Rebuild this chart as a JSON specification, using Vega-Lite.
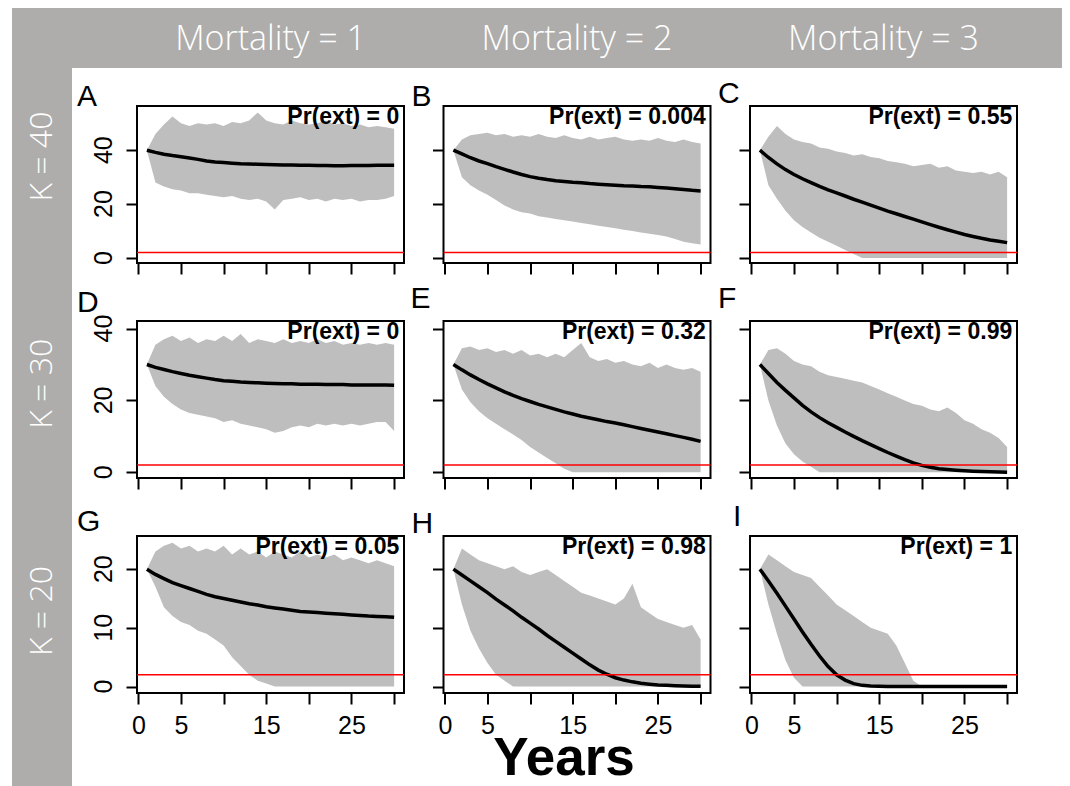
{
"$schema": "https://vega.github.io/schema/vega-lite/v6.json",
"background": "white",
"padding": {"left": 12, "top": 8, "right": 0, "bottom": 0},
"config": {
  "font": "Liberation Sans",
  "view": {"stroke": "black", "strokeWidth": 2},
  "axis": {"domain": false, "grid": false, "ticks": true, "tickColor": "black", "tickWidth": 2, "tickSize": 11, "labelFont": "Liberation Sans", "labelFontSize": 25, "labelColor": "black", "labelFlush": false, "labelOverlap": false},
  "axisX": {"labelPadding": 9},
  "title": {"font": "Liberation Sans", "fontSize": 30, "fontWeight": "normal", "anchor": "start", "frame": "group", "baseline": "alphabetic", "color": "black"}
},
"datasets": {
"labels": [
{"panel":"A","pr":"Pr(ext) = 0"},{"panel":"B","pr":"Pr(ext) = 0.004"},{"panel":"C","pr":"Pr(ext) = 0.55"},
{"panel":"D","pr":"Pr(ext) = 0"},{"panel":"E","pr":"Pr(ext) = 0.32"},{"panel":"F","pr":"Pr(ext) = 0.99"},
{"panel":"G","pr":"Pr(ext) = 0.05"},{"panel":"H","pr":"Pr(ext) = 0.98"},{"panel":"I","pr":"Pr(ext) = 1"}
],
"yticks_k40": [{"tick": 0}, {"tick": 20}, {"tick": 40}],
"yticks_k20": [{"tick": 0}, {"tick": 10}, {"tick": 20}],
"sim": [
{"panel":"A","year":1,"low":40,"high":40,"mean":40},
{"panel":"A","year":2,"low":28,"high":46,"mean":39.2},
{"panel":"A","year":3,"low":26.5,"high":49.5,"mean":38.5},
{"panel":"A","year":4,"low":25.5,"high":52.5,"mean":38.0},
{"panel":"A","year":5,"low":25,"high":50,"mean":37.6},
{"panel":"A","year":6,"low":24,"high":49,"mean":37.1},
{"panel":"A","year":7,"low":24,"high":50,"mean":36.6},
{"panel":"A","year":8,"low":23.5,"high":49.5,"mean":36.0},
{"panel":"A","year":9,"low":23,"high":50,"mean":35.6},
{"panel":"A","year":10,"low":22.5,"high":49,"mean":35.4},
{"panel":"A","year":11,"low":23,"high":50.5,"mean":35.2},
{"panel":"A","year":12,"low":22,"high":50,"mean":35.0},
{"panel":"A","year":13,"low":21.5,"high":51,"mean":34.9},
{"panel":"A","year":14,"low":22,"high":54,"mean":34.8},
{"panel":"A","year":15,"low":21,"high":51,"mean":34.7},
{"panel":"A","year":16,"low":18,"high":50,"mean":34.6},
{"panel":"A","year":17,"low":21.5,"high":49.5,"mean":34.5},
{"panel":"A","year":18,"low":22,"high":51,"mean":34.5},
{"panel":"A","year":19,"low":22.5,"high":50,"mean":34.4},
{"panel":"A","year":20,"low":21.5,"high":49.5,"mean":34.4},
{"panel":"A","year":21,"low":22,"high":50,"mean":34.3},
{"panel":"A","year":22,"low":21,"high":51,"mean":34.3},
{"panel":"A","year":23,"low":22,"high":49.5,"mean":34.2},
{"panel":"A","year":24,"low":21.5,"high":50,"mean":34.2},
{"panel":"A","year":25,"low":22,"high":49,"mean":34.3},
{"panel":"A","year":26,"low":21,"high":49.5,"mean":34.3},
{"panel":"A","year":27,"low":21.5,"high":48.5,"mean":34.3},
{"panel":"A","year":28,"low":21.5,"high":49,"mean":34.4},
{"panel":"A","year":29,"low":22,"high":48.5,"mean":34.4},
{"panel":"A","year":30,"low":23,"high":48,"mean":34.4},
{"panel":"B","year":1,"low":40,"high":40,"mean":40},
{"panel":"B","year":2,"low":30,"high":44,"mean":38.6},
{"panel":"B","year":3,"low":27,"high":45.5,"mean":37.2},
{"panel":"B","year":4,"low":25,"high":46,"mean":36.0},
{"panel":"B","year":5,"low":23.5,"high":46.5,"mean":35.0},
{"panel":"B","year":6,"low":21.5,"high":45.5,"mean":33.9},
{"panel":"B","year":7,"low":19.5,"high":46,"mean":32.9},
{"panel":"B","year":8,"low":18,"high":45,"mean":31.9},
{"panel":"B","year":9,"low":17,"high":45.5,"mean":31.0},
{"panel":"B","year":10,"low":16.5,"high":45,"mean":30.2},
{"panel":"B","year":11,"low":15.5,"high":46,"mean":29.6},
{"panel":"B","year":12,"low":15,"high":45,"mean":29.1},
{"panel":"B","year":13,"low":14.5,"high":44.5,"mean":28.7},
{"panel":"B","year":14,"low":14,"high":45.5,"mean":28.4},
{"panel":"B","year":15,"low":13.5,"high":44.5,"mean":28.1},
{"panel":"B","year":16,"low":13,"high":44,"mean":27.9},
{"panel":"B","year":17,"low":12.5,"high":45,"mean":27.6},
{"panel":"B","year":18,"low":12,"high":44,"mean":27.4},
{"panel":"B","year":19,"low":11.5,"high":44.5,"mean":27.2},
{"panel":"B","year":20,"low":11,"high":45,"mean":27.0},
{"panel":"B","year":21,"low":10.5,"high":44,"mean":26.8},
{"panel":"B","year":22,"low":10,"high":43.5,"mean":26.7},
{"panel":"B","year":23,"low":9.5,"high":44,"mean":26.5},
{"panel":"B","year":24,"low":9,"high":43.5,"mean":26.4},
{"panel":"B","year":25,"low":8.5,"high":44.5,"mean":26.2},
{"panel":"B","year":26,"low":8,"high":43.5,"mean":26.0},
{"panel":"B","year":27,"low":7,"high":43,"mean":25.7},
{"panel":"B","year":28,"low":6,"high":44,"mean":25.4},
{"panel":"B","year":29,"low":5.5,"high":43,"mean":25.1},
{"panel":"B","year":30,"low":5,"high":42.5,"mean":24.9},
{"panel":"C","year":1,"low":40,"high":40,"mean":40},
{"panel":"C","year":2,"low":27,"high":45,"mean":37.3},
{"panel":"C","year":3,"low":22,"high":49,"mean":34.9},
{"panel":"C","year":4,"low":17.5,"high":46,"mean":32.8},
{"panel":"C","year":5,"low":14,"high":44,"mean":31.0},
{"panel":"C","year":6,"low":11.5,"high":43,"mean":29.4},
{"panel":"C","year":7,"low":9.5,"high":42.5,"mean":28.0},
{"panel":"C","year":8,"low":7.5,"high":41,"mean":26.6},
{"panel":"C","year":9,"low":6,"high":40.5,"mean":25.3},
{"panel":"C","year":10,"low":4.5,"high":39.5,"mean":24.2},
{"panel":"C","year":11,"low":3,"high":39,"mean":23.0},
{"panel":"C","year":12,"low":1.5,"high":38,"mean":21.8},
{"panel":"C","year":13,"low":0,"high":38.5,"mean":20.7},
{"panel":"C","year":14,"low":0,"high":37.5,"mean":19.6},
{"panel":"C","year":15,"low":0,"high":37,"mean":18.5},
{"panel":"C","year":16,"low":0,"high":36,"mean":17.4},
{"panel":"C","year":17,"low":0,"high":35.5,"mean":16.4},
{"panel":"C","year":18,"low":0,"high":35,"mean":15.4},
{"panel":"C","year":19,"low":0,"high":34,"mean":14.4},
{"panel":"C","year":20,"low":0,"high":34.5,"mean":13.4},
{"panel":"C","year":21,"low":0,"high":35,"mean":12.4},
{"panel":"C","year":22,"low":0,"high":33.5,"mean":11.4},
{"panel":"C","year":23,"low":0,"high":34,"mean":10.5},
{"panel":"C","year":24,"low":0,"high":32.5,"mean":9.6},
{"panel":"C","year":25,"low":0,"high":32,"mean":8.7},
{"panel":"C","year":26,"low":0,"high":31.5,"mean":8.0},
{"panel":"C","year":27,"low":0,"high":32,"mean":7.3},
{"panel":"C","year":28,"low":0,"high":31,"mean":6.7},
{"panel":"C","year":29,"low":0,"high":32,"mean":6.2},
{"panel":"C","year":30,"low":0,"high":30,"mean":5.7},
{"panel":"D","year":1,"low":30,"high":30,"mean":30},
{"panel":"D","year":2,"low":24,"high":35.5,"mean":29.2},
{"panel":"D","year":3,"low":21,"high":37,"mean":28.6},
{"panel":"D","year":4,"low":19,"high":38,"mean":28.0},
{"panel":"D","year":5,"low":17.5,"high":36.5,"mean":27.5},
{"panel":"D","year":6,"low":16.5,"high":37.5,"mean":27.0},
{"panel":"D","year":7,"low":16,"high":36,"mean":26.6},
{"panel":"D","year":8,"low":15.5,"high":37,"mean":26.2},
{"panel":"D","year":9,"low":15,"high":36.5,"mean":25.8},
{"panel":"D","year":10,"low":14,"high":38,"mean":25.5},
{"panel":"D","year":11,"low":14.5,"high":36.5,"mean":25.3},
{"panel":"D","year":12,"low":13.5,"high":38.5,"mean":25.1},
{"panel":"D","year":13,"low":13,"high":36,"mean":25.0},
{"panel":"D","year":14,"low":12.5,"high":37,"mean":24.9},
{"panel":"D","year":15,"low":12,"high":36.5,"mean":24.8},
{"panel":"D","year":16,"low":11,"high":36,"mean":24.7},
{"panel":"D","year":17,"low":11.5,"high":37,"mean":24.6},
{"panel":"D","year":18,"low":12.5,"high":36,"mean":24.6},
{"panel":"D","year":19,"low":13,"high":36.5,"mean":24.5},
{"panel":"D","year":20,"low":12.5,"high":36,"mean":24.5},
{"panel":"D","year":21,"low":13.5,"high":37,"mean":24.5},
{"panel":"D","year":22,"low":13,"high":36,"mean":24.4},
{"panel":"D","year":23,"low":13.5,"high":36.5,"mean":24.4},
{"panel":"D","year":24,"low":13,"high":35.5,"mean":24.4},
{"panel":"D","year":25,"low":13.5,"high":36,"mean":24.3},
{"panel":"D","year":26,"low":13,"high":35.5,"mean":24.3},
{"panel":"D","year":27,"low":13.5,"high":36,"mean":24.3},
{"panel":"D","year":28,"low":14,"high":35.5,"mean":24.3},
{"panel":"D","year":29,"low":14,"high":36,"mean":24.3},
{"panel":"D","year":30,"low":11.5,"high":35.5,"mean":24.2},
{"panel":"E","year":1,"low":30,"high":30,"mean":30},
{"panel":"E","year":2,"low":23,"high":34.5,"mean":28.5},
{"panel":"E","year":3,"low":19.5,"high":35,"mean":27.1},
{"panel":"E","year":4,"low":17,"high":34,"mean":25.8},
{"panel":"E","year":5,"low":15,"high":34.5,"mean":24.6},
{"panel":"E","year":6,"low":13.5,"high":33.5,"mean":23.5},
{"panel":"E","year":7,"low":12,"high":34,"mean":22.4},
{"panel":"E","year":8,"low":10.5,"high":33,"mean":21.4},
{"panel":"E","year":9,"low":9,"high":34,"mean":20.5},
{"panel":"E","year":10,"low":7,"high":32.5,"mean":19.7},
{"panel":"E","year":11,"low":5.5,"high":33,"mean":18.9},
{"panel":"E","year":12,"low":4,"high":32,"mean":18.2},
{"panel":"E","year":13,"low":2.5,"high":33,"mean":17.5},
{"panel":"E","year":14,"low":1,"high":32,"mean":16.8},
{"panel":"E","year":15,"low":0,"high":34,"mean":16.2},
{"panel":"E","year":16,"low":0,"high":36,"mean":15.6},
{"panel":"E","year":17,"low":0,"high":32,"mean":15.1},
{"panel":"E","year":18,"low":0,"high":31,"mean":14.6},
{"panel":"E","year":19,"low":0,"high":31.5,"mean":14.1},
{"panel":"E","year":20,"low":0,"high":30.5,"mean":13.7},
{"panel":"E","year":21,"low":0,"high":31,"mean":13.2},
{"panel":"E","year":22,"low":0,"high":30,"mean":12.7},
{"panel":"E","year":23,"low":0,"high":29.5,"mean":12.2},
{"panel":"E","year":24,"low":0,"high":30.5,"mean":11.7},
{"panel":"E","year":25,"low":0,"high":29,"mean":11.2},
{"panel":"E","year":26,"low":0,"high":30,"mean":10.7},
{"panel":"E","year":27,"low":0,"high":29,"mean":10.2},
{"panel":"E","year":28,"low":0,"high":28.5,"mean":9.7},
{"panel":"E","year":29,"low":0,"high":29,"mean":9.2},
{"panel":"E","year":30,"low":0,"high":28,"mean":8.6},
{"panel":"F","year":1,"low":30,"high":30,"mean":30},
{"panel":"F","year":2,"low":20,"high":34,"mean":27.5},
{"panel":"F","year":3,"low":13,"high":34.5,"mean":25.0},
{"panel":"F","year":4,"low":8,"high":33,"mean":22.8},
{"panel":"F","year":5,"low":5,"high":31,"mean":20.7},
{"panel":"F","year":6,"low":3,"high":30,"mean":18.6},
{"panel":"F","year":7,"low":1.5,"high":29.5,"mean":16.8},
{"panel":"F","year":8,"low":0,"high":28,"mean":15.2},
{"panel":"F","year":9,"low":0,"high":27,"mean":13.8},
{"panel":"F","year":10,"low":0,"high":26.5,"mean":12.5},
{"panel":"F","year":11,"low":0,"high":26,"mean":11.2},
{"panel":"F","year":12,"low":0,"high":25.5,"mean":10.0},
{"panel":"F","year":13,"low":0,"high":25,"mean":8.8},
{"panel":"F","year":14,"low":0,"high":24,"mean":7.7},
{"panel":"F","year":15,"low":0,"high":23,"mean":6.6},
{"panel":"F","year":16,"low":0,"high":22,"mean":5.5},
{"panel":"F","year":17,"low":0,"high":21,"mean":4.5},
{"panel":"F","year":18,"low":0,"high":20,"mean":3.5},
{"panel":"F","year":19,"low":0,"high":19,"mean":2.6},
{"panel":"F","year":20,"low":0,"high":18.5,"mean":1.9},
{"panel":"F","year":21,"low":0,"high":17.5,"mean":1.4},
{"panel":"F","year":22,"low":0,"high":17,"mean":1.0},
{"panel":"F","year":23,"low":0,"high":18,"mean":0.75},
{"panel":"F","year":24,"low":0,"high":16.5,"mean":0.55},
{"panel":"F","year":25,"low":0,"high":14.5,"mean":0.4},
{"panel":"F","year":26,"low":0,"high":13.5,"mean":0.3},
{"panel":"F","year":27,"low":0,"high":12,"mean":0.2},
{"panel":"F","year":28,"low":0,"high":11,"mean":0.12},
{"panel":"F","year":29,"low":0,"high":9.5,"mean":0.06},
{"panel":"F","year":30,"low":0,"high":7,"mean":0.02},
{"panel":"G","year":1,"low":20,"high":20,"mean":20},
{"panel":"G","year":2,"low":17,"high":23,"mean":19.1},
{"panel":"G","year":3,"low":13.5,"high":24,"mean":18.4},
{"panel":"G","year":4,"low":12,"high":24.5,"mean":17.7},
{"panel":"G","year":5,"low":11,"high":23.5,"mean":17.2},
{"panel":"G","year":6,"low":10.5,"high":24,"mean":16.7},
{"panel":"G","year":7,"low":9.5,"high":23,"mean":16.2},
{"panel":"G","year":8,"low":9,"high":23.5,"mean":15.7},
{"panel":"G","year":9,"low":8,"high":23,"mean":15.3},
{"panel":"G","year":10,"low":7,"high":24,"mean":15.0},
{"panel":"G","year":11,"low":5,"high":22.5,"mean":14.7},
{"panel":"G","year":12,"low":3.5,"high":23.5,"mean":14.4},
{"panel":"G","year":13,"low":2,"high":22.5,"mean":14.1},
{"panel":"G","year":14,"low":1,"high":23,"mean":13.9},
{"panel":"G","year":15,"low":0.5,"high":22,"mean":13.6},
{"panel":"G","year":16,"low":0,"high":23,"mean":13.4},
{"panel":"G","year":17,"low":0,"high":22.5,"mean":13.2},
{"panel":"G","year":18,"low":0,"high":22,"mean":13.0},
{"panel":"G","year":19,"low":0,"high":23,"mean":12.8},
{"panel":"G","year":20,"low":0,"high":22,"mean":12.7},
{"panel":"G","year":21,"low":0,"high":22.5,"mean":12.6},
{"panel":"G","year":22,"low":0,"high":22,"mean":12.5},
{"panel":"G","year":23,"low":0,"high":22.5,"mean":12.4},
{"panel":"G","year":24,"low":0,"high":21.5,"mean":12.3},
{"panel":"G","year":25,"low":0,"high":22,"mean":12.2},
{"panel":"G","year":26,"low":0,"high":21.5,"mean":12.1},
{"panel":"G","year":27,"low":0,"high":21,"mean":12.0},
{"panel":"G","year":28,"low":0,"high":21.5,"mean":11.95},
{"panel":"G","year":29,"low":0,"high":21,"mean":11.9},
{"panel":"G","year":30,"low":0,"high":20.5,"mean":11.8},
{"panel":"H","year":1,"low":20,"high":20,"mean":20},
{"panel":"H","year":2,"low":14,"high":23.5,"mean":19.0},
{"panel":"H","year":3,"low":9.5,"high":22.5,"mean":18.0},
{"panel":"H","year":4,"low":6.5,"high":21.5,"mean":17.0},
{"panel":"H","year":5,"low":4,"high":21,"mean":16.0},
{"panel":"H","year":6,"low":2,"high":20.5,"mean":14.9},
{"panel":"H","year":7,"low":1,"high":20,"mean":13.9},
{"panel":"H","year":8,"low":0,"high":20.5,"mean":12.9},
{"panel":"H","year":9,"low":0,"high":19.5,"mean":11.8},
{"panel":"H","year":10,"low":0,"high":19,"mean":10.8},
{"panel":"H","year":11,"low":0,"high":19.5,"mean":9.8},
{"panel":"H","year":12,"low":0,"high":20,"mean":8.7},
{"panel":"H","year":13,"low":0,"high":19,"mean":7.7},
{"panel":"H","year":14,"low":0,"high":18,"mean":6.7},
{"panel":"H","year":15,"low":0,"high":17,"mean":5.7},
{"panel":"H","year":16,"low":0,"high":16,"mean":4.7},
{"panel":"H","year":17,"low":0,"high":15.5,"mean":3.7},
{"panel":"H","year":18,"low":0,"high":15,"mean":2.8},
{"panel":"H","year":19,"low":0,"high":14.5,"mean":2.1},
{"panel":"H","year":20,"low":0,"high":14,"mean":1.5},
{"panel":"H","year":21,"low":0,"high":15,"mean":1.1},
{"panel":"H","year":22,"low":0,"high":17.5,"mean":0.8},
{"panel":"H","year":23,"low":0,"high":13.5,"mean":0.55},
{"panel":"H","year":24,"low":0,"high":12.5,"mean":0.4},
{"panel":"H","year":25,"low":0,"high":11.5,"mean":0.28},
{"panel":"H","year":26,"low":0,"high":11,"mean":0.2},
{"panel":"H","year":27,"low":0,"high":10.5,"mean":0.13},
{"panel":"H","year":28,"low":0,"high":10,"mean":0.08},
{"panel":"H","year":29,"low":0,"high":10.5,"mean":0.05},
{"panel":"H","year":30,"low":0,"high":8,"mean":0.03},
{"panel":"I","year":1,"low":20,"high":20,"mean":20},
{"panel":"I","year":2,"low":14,"high":22.5,"mean":18.0},
{"panel":"I","year":3,"low":9,"high":21.5,"mean":15.9},
{"panel":"I","year":4,"low":4.5,"high":20.5,"mean":13.7},
{"panel":"I","year":5,"low":1.5,"high":19.5,"mean":11.5},
{"panel":"I","year":6,"low":0,"high":19,"mean":9.3},
{"panel":"I","year":7,"low":0,"high":18.5,"mean":7.2},
{"panel":"I","year":8,"low":0,"high":17,"mean":5.2},
{"panel":"I","year":9,"low":0,"high":15.5,"mean":3.4},
{"panel":"I","year":10,"low":0,"high":14,"mean":2.0},
{"panel":"I","year":11,"low":0,"high":13,"mean":1.1},
{"panel":"I","year":12,"low":0,"high":12,"mean":0.5},
{"panel":"I","year":13,"low":0,"high":11,"mean":0.2},
{"panel":"I","year":14,"low":0,"high":10,"mean":0.1},
{"panel":"I","year":15,"low":0,"high":9.5,"mean":0.05},
{"panel":"I","year":16,"low":0,"high":9,"mean":0.02},
{"panel":"I","year":17,"low":0,"high":7,"mean":0},
{"panel":"I","year":18,"low":0,"high":4,"mean":0},
{"panel":"I","year":19,"low":0,"high":1,"mean":0},
{"panel":"I","year":20,"low":0,"high":0,"mean":0},
{"panel":"I","year":21,"low":0,"high":0,"mean":0},
{"panel":"I","year":22,"low":0,"high":0,"mean":0},
{"panel":"I","year":23,"low":0,"high":0,"mean":0},
{"panel":"I","year":24,"low":0,"high":0,"mean":0},
{"panel":"I","year":25,"low":0,"high":0,"mean":0},
{"panel":"I","year":26,"low":0,"high":0,"mean":0},
{"panel":"I","year":27,"low":0,"high":0,"mean":0},
{"panel":"I","year":28,"low":0,"high":0,"mean":0},
{"panel":"I","year":29,"low":0,"high":0,"mean":0},
{"panel":"I","year":30,"low":0,"high":0,"mean":0}
]
},
"bounds": "flush",
"spacing": 0,
"vconcat": [
{
  "width": 1050, "height": 60,
  "view": {"fill": "#aeadab", "stroke": null},
  "data": {"values": [{"mortality": 1, "label": "Mortality = 1"}, {"mortality": 2, "label": "Mortality = 2"}, {"mortality": 3, "label": "Mortality = 3"}]},
  "mark": {"type": "text", "font": "Open Sans", "fontWeight": 300, "fontSize": 34, "color": "#ffffff", "baseline": "alphabetic", "align": "center", "dy": 12},
  "encoding": {
    "x": {"field": "mortality", "type": "quantitative", "scale": {"domain": [0.1566, 3.5824], "nice": false, "zero": false}, "axis": null},
    "text": {"field": "label"}
  }
},
{
  "bounds": "flush",
  "spacing": 65,
  "hconcat": [
  {
    "width": 60, "height": 718,
    "view": {"fill": "#aeadab", "stroke": null},
    "data": {"values": [{"K": 40, "label": "K = 40"}, {"K": 30, "label": "K = 30"}, {"K": 20, "label": "K = 20"}]},
    "mark": {"type": "text", "font": "Open Sans", "fontWeight": 300, "fontSize": 32, "color": "#ffffff", "angle": 270, "baseline": "middle", "align": "center"},
    "encoding": {
      "y": {"field": "K", "type": "quantitative", "scale": {"domain": [12.3, 43.9], "nice": false, "zero": false}, "axis": null},
      "text": {"field": "label"}
    }
  },
  {
    "bounds": "flush",
    "spacing": 0,
    "vconcat": [
    {
      "width": 10, "height": 38,
      "view": {"stroke": null},
      "data": {"values": [{"blank": 0}]},
      "mark": {"type": "point", "opacity": 0},
      "encoding": {}
    },
    {
      "columns": 3,
      "bounds": "flush",
      "spacing": {"row": 58, "column": 39.5},
      "concat": [
      {
        "width": 267, "height": 157,
        "title": {"text": "A", "dx": -60, "offset": 0, "dy": 6, "fontSize": 30},
        "data": {"name": "sim"},
        "transform": [{"filter": "datum.panel == 'A'"}],
        "layer": [
          {"mark": {"type": "area", "color": "#bebebe"},
           "encoding": {
             "x": {"field": "year", "type": "quantitative", "scale": {"domain": [-0.16, 31.16], "nice": false, "zero": false}, "axis": {"values": [0,5,10,15,20,25,30], "labels": false, "title": null}},
             "y": {"field": "low", "type": "quantitative", "scale": {"domain": [-1.86, 56.4], "nice": false, "zero": false}, "axis": {"values": [0,10,20,30,40,50], "labels": false, "title": null}},
             "y2": {"field": "high"}}},
          {"mark": {"type": "line", "color": "black", "strokeWidth": 3.5},
           "encoding": {"x": {"field": "year", "type": "quantitative", "title": null}, "y": {"field": "mean", "type": "quantitative", "title": null}}},
          {"data": {"values": [{"threshold": 2}]},
           "mark": {"type": "rule", "color": "#ff0000", "strokeWidth": 1.5},
           "encoding": {"y": {"field": "threshold", "type": "quantitative", "title": null}}},
          {"data": {"name": "yticks_k40"},
           "mark": {"type": "text", "angle": 270, "align": "center", "baseline": "alphabetic", "font": "Liberation Sans", "fontSize": 25, "color": "black"},
           "encoding": {"y": {"field": "tick", "type": "quantitative", "title": null}, "x": {"datum": -3.09}, "text": {"field": "tick", "type": "quantitative", "format": "d"}}},
          {"data": {"name": "labels"}, "transform": [{"filter": "datum.panel == 'A'"}],
           "mark": {"type": "text", "align": "right", "baseline": "top", "font": "Liberation Sans", "fontWeight": "bold", "fontSize": 23, "color": "black"},
           "encoding": {"text": {"field": "pr"}, "x": {"datum": 30.6}, "y": {"datum": 56.4}}}
        ]
      },
      {
        "width": 267, "height": 157,
        "title": {"text": "B", "dx": -32, "offset": 0, "dy": 6, "fontSize": 30},
        "data": {"name": "sim"},
        "transform": [{"filter": "datum.panel == 'B'"}],
        "layer": [
          {"mark": {"type": "area", "color": "#bebebe"},
           "encoding": {
             "x": {"field": "year", "type": "quantitative", "scale": {"domain": [-0.16, 31.16], "nice": false, "zero": false}, "axis": {"values": [0,5,10,15,20,25,30], "labels": false, "title": null}},
             "y": {"field": "low", "type": "quantitative", "scale": {"domain": [-1.86, 56.4], "nice": false, "zero": false}, "axis": {"values": [0,10,20,30,40,50], "labels": false, "title": null}},
             "y2": {"field": "high"}}},
          {"mark": {"type": "line", "color": "black", "strokeWidth": 3.5},
           "encoding": {"x": {"field": "year", "type": "quantitative", "title": null}, "y": {"field": "mean", "type": "quantitative", "title": null}}},
          {"data": {"values": [{"threshold": 2}]},
           "mark": {"type": "rule", "color": "#ff0000", "strokeWidth": 1.5},
           "encoding": {"y": {"field": "threshold", "type": "quantitative", "title": null}}},
          {"data": {"name": "labels"}, "transform": [{"filter": "datum.panel == 'B'"}],
           "mark": {"type": "text", "align": "right", "baseline": "top", "font": "Liberation Sans", "fontWeight": "bold", "fontSize": 23, "color": "black"},
           "encoding": {"text": {"field": "pr"}, "x": {"datum": 30.6}, "y": {"datum": 56.4}}}
        ]
      },
      {
        "width": 267, "height": 157,
        "title": {"text": "C", "dx": -32, "offset": 0, "dy": 3, "fontSize": 30},
        "data": {"name": "sim"},
        "transform": [{"filter": "datum.panel == 'C'"}],
        "layer": [
          {"mark": {"type": "area", "color": "#bebebe"},
           "encoding": {
             "x": {"field": "year", "type": "quantitative", "scale": {"domain": [-0.16, 31.16], "nice": false, "zero": false}, "axis": {"values": [0,5,10,15,20,25,30], "labels": false, "title": null}},
             "y": {"field": "low", "type": "quantitative", "scale": {"domain": [-1.86, 56.4], "nice": false, "zero": false}, "axis": {"values": [0,10,20,30,40,50], "labels": false, "title": null}},
             "y2": {"field": "high"}}},
          {"mark": {"type": "line", "color": "black", "strokeWidth": 3.5},
           "encoding": {"x": {"field": "year", "type": "quantitative", "title": null}, "y": {"field": "mean", "type": "quantitative", "title": null}}},
          {"data": {"values": [{"threshold": 2}]},
           "mark": {"type": "rule", "color": "#ff0000", "strokeWidth": 1.5},
           "encoding": {"y": {"field": "threshold", "type": "quantitative", "title": null}}},
          {"data": {"name": "labels"}, "transform": [{"filter": "datum.panel == 'C'"}],
           "mark": {"type": "text", "align": "right", "baseline": "top", "font": "Liberation Sans", "fontWeight": "bold", "fontSize": 23, "color": "black"},
           "encoding": {"text": {"field": "pr"}, "x": {"datum": 30.6}, "y": {"datum": 56.4}}}
        ]
      },
      {
        "width": 267, "height": 157,
        "title": {"text": "D", "dx": -60, "offset": 0, "dy": 3, "fontSize": 30},
        "data": {"name": "sim"},
        "transform": [{"filter": "datum.panel == 'D'"}],
        "layer": [
          {"mark": {"type": "area", "color": "#bebebe"},
           "encoding": {
             "x": {"field": "year", "type": "quantitative", "scale": {"domain": [-0.16, 31.16], "nice": false, "zero": false}, "axis": {"values": [0,5,10,15,20,25,30], "labels": false, "title": null}},
             "y": {"field": "low", "type": "quantitative", "scale": {"domain": [-1.6, 42.1], "nice": false, "zero": false}, "axis": {"values": [0,10,20,30,40], "labels": false, "title": null}},
             "y2": {"field": "high"}}},
          {"mark": {"type": "line", "color": "black", "strokeWidth": 3.5},
           "encoding": {"x": {"field": "year", "type": "quantitative", "title": null}, "y": {"field": "mean", "type": "quantitative", "title": null}}},
          {"data": {"values": [{"threshold": 2}]},
           "mark": {"type": "rule", "color": "#ff0000", "strokeWidth": 1.5},
           "encoding": {"y": {"field": "threshold", "type": "quantitative", "title": null}}},
          {"data": {"name": "yticks_k40"},
           "mark": {"type": "text", "angle": 270, "align": "center", "baseline": "alphabetic", "font": "Liberation Sans", "fontSize": 25, "color": "black"},
           "encoding": {"y": {"field": "tick", "type": "quantitative", "title": null}, "x": {"datum": -3.09}, "text": {"field": "tick", "type": "quantitative", "format": "d"}}},
          {"data": {"name": "labels"}, "transform": [{"filter": "datum.panel == 'D'"}],
           "mark": {"type": "text", "align": "right", "baseline": "top", "font": "Liberation Sans", "fontWeight": "bold", "fontSize": 23, "color": "black"},
           "encoding": {"text": {"field": "pr"}, "x": {"datum": 30.6}, "y": {"datum": 42.1}}}
        ]
      },
      {
        "width": 267, "height": 157,
        "title": {"text": "E", "dx": -33, "offset": 0, "dy": -7, "fontSize": 30},
        "data": {"name": "sim"},
        "transform": [{"filter": "datum.panel == 'E'"}],
        "layer": [
          {"mark": {"type": "area", "color": "#bebebe"},
           "encoding": {
             "x": {"field": "year", "type": "quantitative", "scale": {"domain": [-0.16, 31.16], "nice": false, "zero": false}, "axis": {"values": [0,5,10,15,20,25,30], "labels": false, "title": null}},
             "y": {"field": "low", "type": "quantitative", "scale": {"domain": [-1.6, 42.1], "nice": false, "zero": false}, "axis": {"values": [0,10,20,30,40], "labels": false, "title": null}},
             "y2": {"field": "high"}}},
          {"mark": {"type": "line", "color": "black", "strokeWidth": 3.5},
           "encoding": {"x": {"field": "year", "type": "quantitative", "title": null}, "y": {"field": "mean", "type": "quantitative", "title": null}}},
          {"data": {"values": [{"threshold": 2}]},
           "mark": {"type": "rule", "color": "#ff0000", "strokeWidth": 1.5},
           "encoding": {"y": {"field": "threshold", "type": "quantitative", "title": null}}},
          {"data": {"name": "labels"}, "transform": [{"filter": "datum.panel == 'E'"}],
           "mark": {"type": "text", "align": "right", "baseline": "top", "font": "Liberation Sans", "fontWeight": "bold", "fontSize": 23, "color": "black"},
           "encoding": {"text": {"field": "pr"}, "x": {"datum": 30.6}, "y": {"datum": 42.1}}}
        ]
      },
      {
        "width": 267, "height": 157,
        "title": {"text": "F", "dx": -32, "offset": 0, "dy": -7, "fontSize": 30},
        "data": {"name": "sim"},
        "transform": [{"filter": "datum.panel == 'F'"}],
        "layer": [
          {"mark": {"type": "area", "color": "#bebebe"},
           "encoding": {
             "x": {"field": "year", "type": "quantitative", "scale": {"domain": [-0.16, 31.16], "nice": false, "zero": false}, "axis": {"values": [0,5,10,15,20,25,30], "labels": false, "title": null}},
             "y": {"field": "low", "type": "quantitative", "scale": {"domain": [-1.6, 42.1], "nice": false, "zero": false}, "axis": {"values": [0,10,20,30,40], "labels": false, "title": null}},
             "y2": {"field": "high"}}},
          {"mark": {"type": "line", "color": "black", "strokeWidth": 3.5},
           "encoding": {"x": {"field": "year", "type": "quantitative", "title": null}, "y": {"field": "mean", "type": "quantitative", "title": null}}},
          {"data": {"values": [{"threshold": 2}]},
           "mark": {"type": "rule", "color": "#ff0000", "strokeWidth": 1.5},
           "encoding": {"y": {"field": "threshold", "type": "quantitative", "title": null}}},
          {"data": {"name": "labels"}, "transform": [{"filter": "datum.panel == 'F'"}],
           "mark": {"type": "text", "align": "right", "baseline": "top", "font": "Liberation Sans", "fontWeight": "bold", "fontSize": 23, "color": "black"},
           "encoding": {"text": {"field": "pr"}, "x": {"datum": 30.6}, "y": {"datum": 42.1}}}
        ]
      },
      {
        "width": 267, "height": 157,
        "title": {"text": "G", "dx": -60, "offset": 0, "dy": 1, "fontSize": 30},
        "data": {"name": "sim"},
        "transform": [{"filter": "datum.panel == 'G'"}],
        "layer": [
          {"mark": {"type": "area", "color": "#bebebe"},
           "encoding": {
             "x": {"field": "year", "type": "quantitative", "scale": {"domain": [-0.16, 31.16], "nice": false, "zero": false}, "axis": {"values": [0,5,10,15,20,25,30], "labelExpr": "(datum.value === 0 || datum.value === 5 || datum.value === 15 || datum.value === 25) ? datum.label : ''", "title": null}},
             "y": {"field": "low", "type": "quantitative", "scale": {"domain": [-1.1, 25.65], "nice": false, "zero": false}, "axis": {"values": [0,5,10,15,20,25], "labels": false, "title": null}},
             "y2": {"field": "high"}}},
          {"mark": {"type": "line", "color": "black", "strokeWidth": 3.5},
           "encoding": {"x": {"field": "year", "type": "quantitative", "title": null}, "y": {"field": "mean", "type": "quantitative", "title": null}}},
          {"data": {"values": [{"threshold": 2}]},
           "mark": {"type": "rule", "color": "#ff0000", "strokeWidth": 1.5},
           "encoding": {"y": {"field": "threshold", "type": "quantitative", "title": null}}},
          {"data": {"name": "yticks_k20"},
           "mark": {"type": "text", "angle": 270, "align": "center", "baseline": "alphabetic", "font": "Liberation Sans", "fontSize": 25, "color": "black"},
           "encoding": {"y": {"field": "tick", "type": "quantitative", "title": null}, "x": {"datum": -3.09}, "text": {"field": "tick", "type": "quantitative", "format": "d"}}},
          {"data": {"name": "labels"}, "transform": [{"filter": "datum.panel == 'G'"}],
           "mark": {"type": "text", "align": "right", "baseline": "top", "font": "Liberation Sans", "fontWeight": "bold", "fontSize": 23, "color": "black"},
           "encoding": {"text": {"field": "pr"}, "x": {"datum": 30.6}, "y": {"datum": 25.65}}}
        ]
      },
      {
        "width": 267, "height": 157,
        "title": {"text": "H", "dx": -32, "offset": 0, "dy": 3, "fontSize": 30},
        "data": {"name": "sim"},
        "transform": [{"filter": "datum.panel == 'H'"}],
        "layer": [
          {"mark": {"type": "area", "color": "#bebebe"},
           "encoding": {
             "x": {"field": "year", "type": "quantitative", "scale": {"domain": [-0.16, 31.16], "nice": false, "zero": false}, "axis": {"values": [0,5,10,15,20,25,30], "labelExpr": "(datum.value === 0 || datum.value === 5 || datum.value === 15 || datum.value === 25) ? datum.label : ''", "title": "Years", "titleFont": "Liberation Sans", "titleFontWeight": "bold", "titleFontSize": 53, "titleColor": "black", "titlePadding": -6, "titleX": 120}},
             "y": {"field": "low", "type": "quantitative", "scale": {"domain": [-1.1, 25.65], "nice": false, "zero": false}, "axis": {"values": [0,5,10,15,20,25], "labels": false, "title": null}},
             "y2": {"field": "high"}}},
          {"mark": {"type": "line", "color": "black", "strokeWidth": 3.5},
           "encoding": {"x": {"field": "year", "type": "quantitative"}, "y": {"field": "mean", "type": "quantitative", "title": null}}},
          {"data": {"values": [{"threshold": 2}]},
           "mark": {"type": "rule", "color": "#ff0000", "strokeWidth": 1.5},
           "encoding": {"y": {"field": "threshold", "type": "quantitative", "title": null}}},
          {"data": {"name": "labels"}, "transform": [{"filter": "datum.panel == 'H'"}],
           "mark": {"type": "text", "align": "right", "baseline": "top", "font": "Liberation Sans", "fontWeight": "bold", "fontSize": 23, "color": "black"},
           "encoding": {"text": {"field": "pr"}, "x": {"datum": 30.6}, "y": {"datum": 25.65}}}
        ]
      },
      {
        "width": 267, "height": 157,
        "title": {"text": "I", "dx": -17, "offset": 0, "dy": -4, "fontSize": 30},
        "data": {"name": "sim"},
        "transform": [{"filter": "datum.panel == 'I'"}],
        "layer": [
          {"mark": {"type": "area", "color": "#bebebe"},
           "encoding": {
             "x": {"field": "year", "type": "quantitative", "scale": {"domain": [-0.16, 31.16], "nice": false, "zero": false}, "axis": {"values": [0,5,10,15,20,25,30], "labelExpr": "(datum.value === 0 || datum.value === 5 || datum.value === 15 || datum.value === 25) ? datum.label : ''", "title": null}},
             "y": {"field": "low", "type": "quantitative", "scale": {"domain": [-1.1, 25.65], "nice": false, "zero": false}, "axis": {"values": [0,5,10,15,20,25], "labels": false, "title": null}},
             "y2": {"field": "high"}}},
          {"mark": {"type": "line", "color": "black", "strokeWidth": 3.5},
           "encoding": {"x": {"field": "year", "type": "quantitative", "title": null}, "y": {"field": "mean", "type": "quantitative", "title": null}}},
          {"data": {"values": [{"threshold": 2}]},
           "mark": {"type": "rule", "color": "#ff0000", "strokeWidth": 1.5},
           "encoding": {"y": {"field": "threshold", "type": "quantitative", "title": null}}},
          {"data": {"name": "labels"}, "transform": [{"filter": "datum.panel == 'I'"}],
           "mark": {"type": "text", "align": "right", "baseline": "top", "font": "Liberation Sans", "fontWeight": "bold", "fontSize": 23, "color": "black"},
           "encoding": {"text": {"field": "pr"}, "x": {"datum": 30.6}, "y": {"datum": 25.65}}}
        ]
      }
      ]
    }
    ]
  }
  ]
}
]
}
